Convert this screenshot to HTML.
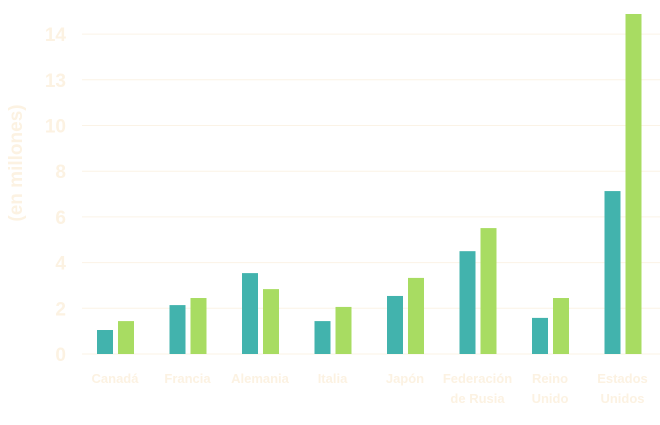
<!DOCTYPE html>
<html><head><meta charset="utf-8"><style>
body{margin:0;background:#fff;}
svg text{font-family:"Liberation Sans",sans-serif;font-weight:bold;fill:#fcf2e2;}
</style></head><body>
<svg id="chart" width="660" height="420" xmlns="http://www.w3.org/2000/svg">
<g id="grid"></g>
<g id="yt"></g>
<g id="bars"></g>
<g id="xt"></g>
<text transform="translate(22,163) rotate(-90)" text-anchor="middle" font-size="19">(en millones)</text>
</svg>
<script>
const categories=[["Canadá"],["Francia"],["Alemania"],["Italia"],["Japón"],["Federación","de Rusia"],["Reino","Unido"],["Estados","Unidos"]];
const series1=[1.05,2.14,3.54,1.44,2.54,4.5,1.58,7.13];
const series2=[1.44,2.45,2.84,2.06,3.33,5.51,2.45,14.88];
const tickValues=[0,2,4,6,8,10,12,14];
const tickLabels=["0","2","4","6","8","10","13","14"];
const NS="http://www.w3.org/2000/svg";
const y0=354,unit=22.85,x0=82,step=72.5;
const y=v=>y0-v*unit;
const xg=i=>x0+15+i*step;
function mk(t,a,p){const e=document.createElementNS(NS,t);for(const k in a)e.setAttribute(k,a[k]);p.appendChild(e);return e;}
const grid=document.getElementById('grid'),yt=document.getElementById('yt'),bars=document.getElementById('bars'),xt=document.getElementById('xt');
tickValues.forEach((v,i)=>{
 const l=mk('line',{x1:x0,x2:660,y1:y(v),y2:y(v),stroke:'#fbf3e6','stroke-width':1},grid);
 
 
 const t=mk('text',{x:66,y:y(v)+7,'text-anchor':'end','font-size':19},yt);
 t.textContent=tickLabels[i];
 
 
});
categories.forEach((c,i)=>{
 const b1=mk('rect',{x:xg(i),y:y(series1[i]),width:16,height:series1[i]*unit,fill:'#42b3ad'},bars);
 
 
 const b2=mk('rect',{x:xg(i)+21,y:y(series2[i]),width:16,height:series2[i]*unit,fill:'#a8dc62'},bars);
 
 
 c.forEach((s,j)=>{
  const t=mk('text',{x:xg(i)+18,y:383+j*20,'text-anchor':'middle','font-size':13},xt);
  t.textContent=s;
  
  
 });
});
</script>
</body></html>
